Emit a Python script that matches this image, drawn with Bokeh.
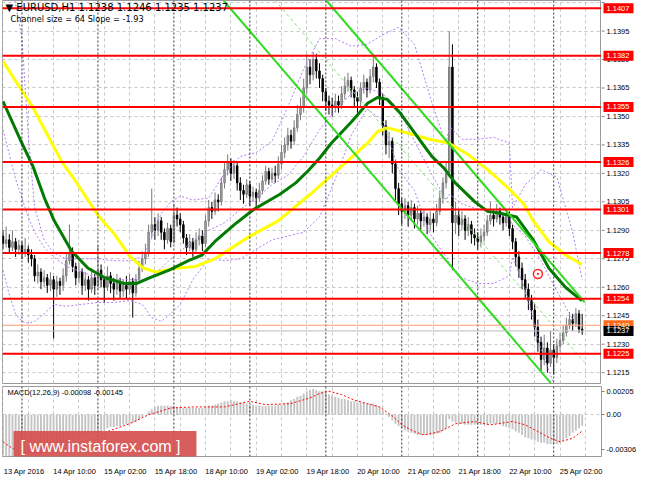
from bokeh.plotting import figure
from bokeh.layouts import column, row
from bokeh.models import Range1d, FixedTicker, Span, Label, ColumnDataSource
from bokeh.core.properties import value
from bokeh.embed import file_html
from bokeh.resources import INLINE

FONT = "Liberation Sans"
TFONT = "DejaVu Sans"

# ---------------- data (EURUSD H1, bar index 0 = 13 Apr 18:00) ----------------
o = [1.1287, 1.1283, 1.1285, 1.1281, 1.1284, 1.1280, 1.1282, 1.1278, 1.1280, 1.1277,
     1.1275, 1.1266, 1.1268, 1.1263, 1.1265, 1.1261, 1.1264, 1.1259, 1.1263, 1.1261,
     1.1266, 1.1274, 1.1278, 1.1271, 1.1265, 1.1268, 1.1261, 1.1264, 1.1259, 1.1265,
     1.1261, 1.1269, 1.1264, 1.1260, 1.1266, 1.1262, 1.1259, 1.1263, 1.1258, 1.1261,
     1.1259, 1.1263, 1.1257, 1.1264, 1.1270, 1.1275, 1.1278, 1.1289, 1.1293, 1.1290,
     1.1295, 1.1289, 1.1285, 1.1291, 1.1284, 1.1298, 1.1296, 1.1293, 1.1286, 1.1281,
     1.1284, 1.1280, 1.1285, 1.1287, 1.1283, 1.1295, 1.1302, 1.1300, 1.1306, 1.1305,
     1.1315, 1.1322, 1.1326, 1.1320, 1.1324, 1.1315, 1.1311, 1.1309, 1.1314, 1.1308,
     1.1310, 1.1307, 1.1311, 1.1316, 1.1321, 1.1317, 1.1320, 1.1319, 1.1325, 1.1331,
     1.1335, 1.1340, 1.1337, 1.1344, 1.1351, 1.1355, 1.1365, 1.1376, 1.1372, 1.1380,
     1.1374, 1.1370, 1.1363, 1.1358, 1.1356, 1.1355, 1.1358, 1.1356, 1.1362, 1.1366,
     1.1369, 1.1364, 1.1360, 1.1358, 1.1365, 1.1368, 1.1364, 1.1371, 1.1376, 1.1368,
     1.1360, 1.1345, 1.1335, 1.1337, 1.1325, 1.1312, 1.1304, 1.1300, 1.1303, 1.1298,
     1.1302, 1.1296, 1.1299, 1.1295, 1.1297, 1.1293, 1.1296, 1.1294, 1.1300, 1.1307,
     1.1315, 1.1320, 1.1376, 1.1294, 1.1298, 1.1293, 1.1296, 1.1290, 1.1293, 1.1288,
     1.1286, 1.1284, 1.1287, 1.1289, 1.1295, 1.1298, 1.1296, 1.1300, 1.1297, 1.1294,
     1.1298, 1.1291, 1.1284, 1.1276, 1.1270, 1.1264, 1.1259, 1.1253, 1.1248, 1.1239,
     1.1231, 1.1222, 1.1228, 1.1220, 1.1227, 1.1223, 1.1229, 1.1232, 1.1236, 1.1240,
     1.1243, 1.1241, 1.1246, 1.1238]
h = [1.1290, 1.1292, 1.1288, 1.1290, 1.1286, 1.1285, 1.1284, 1.1286, 1.1282, 1.1280,
     1.1277, 1.1272, 1.1270, 1.1269, 1.1267, 1.1268, 1.1266, 1.1266, 1.1265, 1.1270,
     1.1278, 1.1293, 1.1281, 1.1273, 1.1273, 1.1270, 1.1268, 1.1266, 1.1270, 1.1267,
     1.1282, 1.1272, 1.1266, 1.1271, 1.1268, 1.1265, 1.1267, 1.1265, 1.1264, 1.1266,
     1.1267, 1.1265, 1.1267, 1.1274, 1.1279, 1.1283, 1.1293, 1.1312, 1.1297, 1.1299,
     1.1297, 1.1291, 1.1294, 1.1293, 1.1304, 1.1302, 1.1299, 1.1295, 1.1288, 1.1288,
     1.1286, 1.1289, 1.1291, 1.1290, 1.1298, 1.1306, 1.1305, 1.1310, 1.1309, 1.1318,
     1.1326, 1.1330, 1.1328, 1.1327, 1.1326, 1.1318, 1.1314, 1.1317, 1.1316, 1.1313,
     1.1312, 1.1315, 1.1319, 1.1324, 1.1323, 1.1323, 1.1324, 1.1329, 1.1335, 1.1339,
     1.1344, 1.1343, 1.1348, 1.1356, 1.1360, 1.1370, 1.1383, 1.1380, 1.1384, 1.1383,
     1.1378, 1.1372, 1.1365, 1.1361, 1.1360, 1.1362, 1.1361, 1.1366, 1.1371, 1.1373,
     1.1371, 1.1366, 1.1363, 1.1368, 1.1372, 1.1370, 1.1375, 1.1383, 1.1378, 1.1370,
     1.1362, 1.1348, 1.1342, 1.1339, 1.1327, 1.1315, 1.1307, 1.1307, 1.1305, 1.1306,
     1.1304, 1.1303, 1.1301, 1.1301, 1.1299, 1.1300, 1.1299, 1.1304, 1.1311, 1.1318,
     1.1326, 1.1395, 1.1388, 1.1305, 1.1301, 1.1300, 1.1298, 1.1297, 1.1295, 1.1291,
     1.1289, 1.1291, 1.1293, 1.1298, 1.1305, 1.1301, 1.1304, 1.1302, 1.1299, 1.1301,
     1.1300, 1.1293, 1.1286, 1.1279, 1.1273, 1.1267, 1.1262, 1.1256, 1.1251, 1.1243,
     1.1234, 1.1235, 1.1231, 1.1237, 1.1230, 1.1233, 1.1236, 1.1240, 1.1244, 1.1247,
     1.1246, 1.1249, 1.1248, 1.1246]
l = [1.1280, 1.1281, 1.1278, 1.1279, 1.1276, 1.1277, 1.1275, 1.1276, 1.1273, 1.1271,
     1.1263, 1.1262, 1.1259, 1.1260, 1.1257, 1.1258, 1.1233, 1.1255, 1.1256, 1.1258,
     1.1263, 1.1272, 1.1268, 1.1261, 1.1262, 1.1256, 1.1258, 1.1253, 1.1257, 1.1256,
     1.1259, 1.1260, 1.1252, 1.1258, 1.1257, 1.1253, 1.1256, 1.1254, 1.1255, 1.1254,
     1.1256, 1.1244, 1.1255, 1.1262, 1.1268, 1.1272, 1.1276, 1.1286, 1.1285, 1.1287,
     1.1285, 1.1280, 1.1283, 1.1281, 1.1283, 1.1292, 1.1289, 1.1283, 1.1277, 1.1279,
     1.1276, 1.1278, 1.1282, 1.1279, 1.1281, 1.1292, 1.1296, 1.1298, 1.1300, 1.1303,
     1.1312, 1.1319, 1.1316, 1.1317, 1.1311, 1.1306, 1.1304, 1.1307, 1.1303, 1.1305,
     1.1302, 1.1305, 1.1309, 1.1314, 1.1314, 1.1315, 1.1315, 1.1317, 1.1322, 1.1328,
     1.1332, 1.1333, 1.1335, 1.1342, 1.1348, 1.1352, 1.1362, 1.1367, 1.1369, 1.1370,
     1.1365, 1.1358, 1.1353, 1.1351, 1.1350, 1.1352, 1.1352, 1.1354, 1.1359, 1.1363,
     1.1360, 1.1355, 1.1352, 1.1355, 1.1362, 1.1360, 1.1362, 1.1368, 1.1365, 1.1356,
     1.1340, 1.1330, 1.1328, 1.1320, 1.1306, 1.1298, 1.1293, 1.1296, 1.1292, 1.1295,
     1.1291, 1.1293, 1.1290, 1.1292, 1.1288, 1.1290, 1.1289, 1.1292, 1.1298, 1.1304,
     1.1312, 1.1318, 1.1269, 1.1288, 1.1287, 1.1290, 1.1285, 1.1287, 1.1283, 1.1282,
     1.1280, 1.1281, 1.1284, 1.1287, 1.1293, 1.1292, 1.1294, 1.1293, 1.1290, 1.1292,
     1.1287, 1.1280, 1.1271, 1.1265, 1.1259, 1.1254, 1.1248, 1.1243, 1.1234, 1.1226,
     1.1216, 1.1219, 1.1215, 1.1218, 1.1214, 1.1220, 1.1226, 1.1230, 1.1234, 1.1238,
     1.1237, 1.1239, 1.1236, 1.1235]
c = [1.1283, 1.1285, 1.1281, 1.1284, 1.1280, 1.1282, 1.1278, 1.1280, 1.1277, 1.1275,
     1.1266, 1.1268, 1.1263, 1.1265, 1.1261, 1.1264, 1.1259, 1.1263, 1.1261, 1.1266,
     1.1274, 1.1278, 1.1271, 1.1265, 1.1268, 1.1261, 1.1264, 1.1259, 1.1265, 1.1261,
     1.1269, 1.1264, 1.1260, 1.1266, 1.1262, 1.1259, 1.1263, 1.1258, 1.1261, 1.1259,
     1.1263, 1.1257, 1.1264, 1.1270, 1.1275, 1.1278, 1.1289, 1.1293, 1.1290, 1.1295,
     1.1289, 1.1285, 1.1291, 1.1284, 1.1298, 1.1296, 1.1293, 1.1286, 1.1281, 1.1284,
     1.1280, 1.1285, 1.1287, 1.1283, 1.1295, 1.1302, 1.1300, 1.1306, 1.1305, 1.1315,
     1.1322, 1.1326, 1.1320, 1.1324, 1.1315, 1.1311, 1.1309, 1.1314, 1.1308, 1.1310,
     1.1307, 1.1311, 1.1316, 1.1321, 1.1317, 1.1320, 1.1319, 1.1325, 1.1331, 1.1335,
     1.1340, 1.1337, 1.1344, 1.1351, 1.1355, 1.1365, 1.1376, 1.1372, 1.1380, 1.1374,
     1.1370, 1.1363, 1.1358, 1.1356, 1.1355, 1.1358, 1.1356, 1.1362, 1.1366, 1.1369,
     1.1364, 1.1360, 1.1358, 1.1365, 1.1368, 1.1364, 1.1371, 1.1376, 1.1368, 1.1360,
     1.1345, 1.1335, 1.1337, 1.1325, 1.1312, 1.1304, 1.1300, 1.1303, 1.1298, 1.1302,
     1.1296, 1.1299, 1.1295, 1.1297, 1.1293, 1.1296, 1.1294, 1.1300, 1.1307, 1.1315,
     1.1320, 1.1376, 1.1294, 1.1298, 1.1293, 1.1296, 1.1290, 1.1293, 1.1288, 1.1286,
     1.1284, 1.1287, 1.1289, 1.1295, 1.1298, 1.1296, 1.1300, 1.1297, 1.1294, 1.1298,
     1.1291, 1.1284, 1.1276, 1.1270, 1.1264, 1.1259, 1.1253, 1.1248, 1.1239, 1.1231,
     1.1222, 1.1228, 1.1220, 1.1227, 1.1223, 1.1229, 1.1232, 1.1236, 1.1240, 1.1243,
     1.1241, 1.1246, 1.1238, 1.1237]

# moving averages (dark green, yellow)
ma1_x = [0, 5.4, 9.4, 13.1, 16.2, 21.7, 26.9, 32.2, 38.3, 42.3, 46.3, 52.5, 58.6, 62.9, 66.9,
         73.1, 79.2, 87.5, 92.5, 96.2, 100.0, 103.8, 110.0, 115.2, 118.3, 121.4, 125.4, 131.5,
         135.5, 139.2, 142.9, 149.1, 153.1, 157.1, 162.3, 167.5, 172.5, 177.7, 182.9]
ma1_y = [1.1358, 1.1338, 1.1324, 1.1307, 1.1295, 1.1279, 1.1270, 1.1265, 1.1262, 1.1262,
         1.1265, 1.1269, 1.1274, 1.1277, 1.1284, 1.1293, 1.1301, 1.1309, 1.1315, 1.1321,
         1.1328, 1.1336, 1.1347, 1.1357, 1.1360, 1.1359, 1.1352, 1.1338, 1.1329, 1.1323,
         1.1315, 1.1305, 1.1300, 1.1299, 1.1297, 1.1285, 1.1270, 1.1260, 1.1253]
ma2_x = [0, 5.4, 9.4, 18.6, 22.9, 30.0, 35.2, 40.2, 44.5, 48.5, 54.6, 60.8, 66.9, 77.1, 86.9,
         97.1, 107.8, 115.2, 118.3, 121.4, 128.5, 134.6, 140.8, 146.9, 153.1, 159.2, 164.5,
         167.5, 172.5, 177.7, 182.9]
ma2_y = [1.1379, 1.1365, 1.1355, 1.1326, 1.1316, 1.1298, 1.1288, 1.1276, 1.1270, 1.1268,
         1.1270, 1.1271, 1.1275, 1.1286, 1.1295, 1.1309, 1.1325, 1.1336, 1.1342, 1.1344,
         1.1341, 1.1338, 1.1336, 1.1330, 1.1322, 1.1313, 1.1304, 1.1295, 1.1284, 1.1277, 1.1272]

# Bollinger bands (violet dotted)
bb_x = [0, 2, 4, 6, 8, 10, 13, 16, 20, 25, 30, 35, 40, 44, 47, 50, 53, 56, 60, 65, 70, 75, 80,
        85, 90, 95, 100, 105, 110, 115, 120, 125, 130, 135, 140, 141, 145, 150, 155, 160, 161,
        165, 170, 175, 180, 183]
bb_up = [1.1442, 1.1424, 1.1409, 1.1391, 1.1340, 1.1302, 1.1285, 1.1278, 1.1275, 1.1275,
         1.1275, 1.1274, 1.1274, 1.1276, 1.1286, 1.1299, 1.1305, 1.1308, 1.1306, 1.1307,
         1.1320, 1.1329, 1.1331, 1.1337, 1.1355, 1.1375, 1.1391, 1.1391, 1.1387, 1.1388,
         1.1393, 1.1397, 1.1388, 1.1360, 1.1335, 1.1345, 1.1338, 1.1338, 1.1339, 1.1336,
         1.1302, 1.1314, 1.1322, 1.1318, 1.1289, 1.1264]
bb_mid = [1.1343, 1.1330, 1.1317, 1.1307, 1.1297, 1.1289, 1.1281, 1.1276, 1.1271, 1.1268,
          1.1265, 1.1264, 1.1264, 1.1264, 1.1266, 1.1270, 1.1275, 1.1279, 1.1284, 1.1290,
          1.1294, 1.1301, 1.1307, 1.1314, 1.1319, 1.1329, 1.1343, 1.1353, 1.1362, 1.1365,
          1.1362, 1.1354, 1.1337, 1.1321, 1.1306, 1.1309, 1.1304, 1.1301, 1.1300, 1.1297,
          1.1293, 1.1287, 1.1274, 1.1258, 1.1243, 1.1238]
bb_lo = [1.1269, 1.1256, 1.1246, 1.1242, 1.1241, 1.1242, 1.1246, 1.1251, 1.1250, 1.1251,
         1.1252, 1.1252, 1.1253, 1.1251, 1.1244, 1.1242, 1.1246, 1.1251, 1.1264, 1.1275,
         1.1274, 1.1275, 1.1280, 1.1285, 1.1287, 1.1289, 1.1297, 1.1317, 1.1340, 1.1354,
         1.1348, 1.1322, 1.1311, 1.1288, 1.1276, 1.1273, 1.1265, 1.1262, 1.1262, 1.1266,
         1.1276, 1.1259, 1.1227, 1.1205, 1.1200, 1.1208]

# regression channel (Channel size = 64, Slope = -1.93)
chan_lo_x, chan_lo_y = [69.7, 173.1], [1.14111, 1.12095]
chan_mid_x, chan_mid_y = [86.0, 183.8], [1.14111, 1.12203]
chan_up_x, chan_up_y = [102.2, 183.8], [1.14111, 1.12520]

levels = [1.1407, 1.1382, 1.1355, 1.1326, 1.1301, 1.1278, 1.1254, 1.1225]
ask_line, bid_line = 1.1240, 1.1237
mark_x, mark_y = [169], [1.1267]

price_ticks = [1.1410, 1.1395, 1.1380, 1.1365, 1.1350, 1.1335, 1.1320, 1.1305, 1.1290,
               1.1275, 1.1260, 1.1245, 1.1230, 1.1215]
date_ticks = [0, 16, 32, 48, 64, 80, 96, 112, 128, 144, 160, 176]
date_labels = ["13 Apr 2016", "14 Apr 10:00", "15 Apr 02:00", "15 Apr 18:00", "18 Apr 10:00",
               "19 Apr 02:00", "19 Apr 18:00", "20 Apr 10:00", "21 Apr 02:00", "21 Apr 18:00",
               "22 Apr 10:00", "25 Apr 02:00"]
day_starts = [6, 30, 54, 78, 102, 126, 150, 174]
grid_x = [0, 8, 16, 24, 32, 40, 48, 56, 64, 72, 80, 88, 96, 104, 112, 120, 128, 136, 144,
          152, 160, 168, 176, 184]

# MACD(12,26,9)
macd = [-0.0036, -0.0037, -0.0037, -0.0037,
        -0.0037, -0.0037, -0.0036, -0.0036, -0.0035, -0.0035,
        -0.0034, -0.0034, -0.0033, -0.0032, -0.0031, -0.0030,
        -0.0030, -0.0029, -0.0028, -0.0027, -0.0026, -0.0024,
        -0.0023, -0.0022, -0.0021, -0.0019,
        -0.0018, -0.0017, -0.0017, -0.0016, -0.0016, -0.0015, -0.0014,
        -0.0012, -0.0011, -0.0011, -0.0010, -0.0010, -0.0009, -0.0009, -0.0008,
        -0.0007, -0.0006, -0.0004, -0.0002, 0.0000,
        0.0003, 0.0005, 0.0007, 0.0008,
        0.0008, 0.0008, 0.0008, 0.0008, 0.0008,
        0.0007, 0.0007, 0.0006, 0.0006, 0.0006, 0.0006, 0.0006, 0.0006, 0.0006, 0.0007,
        0.0008, 0.0008, 0.0009, 0.0010, 0.0011, 0.0012,
        0.0012, 0.0013, 0.0012, 0.0012, 0.0011, 0.0011, 0.0010,
        0.0009, 0.0009, 0.0008, 0.0008, 0.0008, 0.0008, 0.0008, 0.0008, 0.0008, 0.0009,
        0.0009, 0.0010, 0.0011, 0.0013,
        0.0014, 0.0016, 0.0017, 0.0019, 0.0021, 0.0022, 0.0023, 0.0022,
        0.0021, 0.0021, 0.0020,
        0.0018, 0.0017, 0.0016, 0.0015, 0.0014, 0.0014, 0.0013,
        0.0012, 0.0012, 0.0011, 0.0011, 0.0011, 0.0010, 0.0010, 0.0010, 0.0009,
        0.0007, 0.0004, 0.0001, -0.0002,
        -0.0005, -0.0008, -0.0010,
        -0.0012, -0.0014, -0.0015, -0.0016, -0.0017, -0.0018, -0.0018, -0.0018, -0.0018,
        -0.0018, -0.0018, -0.0017, -0.0016, -0.0014, -0.0012,
        -0.0004, -0.0006, -0.0007,
        -0.0008, -0.0008, -0.0009, -0.0009, -0.0009, -0.0009, -0.0009, -0.0009, -0.0009,
        -0.0009, -0.0008, -0.0008, -0.0008, -0.0009,
        -0.0010, -0.0011, -0.0012, -0.0013, -0.0015, -0.0016, -0.0018, -0.0020,
        -0.0021, -0.0022, -0.0023, -0.0024, -0.0025, -0.0025,
        -0.0026, -0.0026, -0.0026, -0.0026, -0.0025,
        -0.0023, -0.0021, -0.0019, -0.0016, -0.0014, -0.0012, -0.00098]
sig_x = [0, 3, 6, 10, 16, 22, 28, 31, 40, 46, 53, 60, 70, 78, 83, 91, 97, 100, 103, 107, 111,
         115, 119, 123, 126, 130, 133, 138, 143, 149, 154, 161, 165, 169, 173, 176, 180, 183]
sig_y = [-0.0024, -0.0030, -0.0033, -0.0034, -0.0033, -0.0029, -0.0022, -0.0017, -0.0008,
         0.0000, 0.0006, 0.0007, 0.0007, 0.0012, 0.0009, 0.0010, 0.0015, 0.0019, 0.0021,
         0.0018, 0.0013, 0.0010, 0.0007, -0.0001, -0.0009, -0.0015, -0.0018, -0.0015,
         -0.0008, -0.0006, -0.0009, -0.0006, -0.0009, -0.0015, -0.0021, -0.0024, -0.0021,
         -0.00145]
macd_ticks = [0.00205, 0.0, -0.00306]
macd_tick_labels = ["0.00205", "0.00", "-0.00306"]

# ---------------- figure ----------------
FW = 599          # plot frame width (px)
SW = 33           # right price-scale strip width (px)
FH1, FH2 = 383, 70
GRID = "#c6c6c6"
xr = Range1d(-0.15, 189.1)
yr = Range1d(1.12093, 1.14111)

xs = list(range(len(c)))
up = [ci >= oi for oi, ci in zip(o, c)]
src = ColumnDataSource(dict(
    x=xs, h=h, l=l,
    top=[max(a, b) for a, b in zip(o, c)],
    bot=[min(a, b) for a, b in zip(o, c)],
    lc=["#7a7a7a" if u else "#000000" for u in up],
    fc=["#b0b0b0" if u else "#000000" for u in up],
))

p1 = figure(frame_width=FW, frame_height=FH1, x_range=xr, y_range=yr,
            x_axis_location=None, y_axis_location=None, toolbar_location=None,
            output_backend="svg", min_border_left=2, min_border_right=0,
            min_border_top=0, min_border_bottom=2, outline_line_color="#9a9a9a")

# right price scale strip (shares the price range)
s1 = figure(frame_width=SW, frame_height=FH1, x_range=Range1d(0, SW), y_range=yr,
            x_axis_location=None, y_axis_location=None, toolbar_location=None,
            output_backend="svg", min_border_left=0, min_border_right=0,
            min_border_top=0, min_border_bottom=2, outline_line_color=None)
s1.grid.visible = False

p2 = figure(frame_width=FW, frame_height=FH2, x_range=xr, y_range=Range1d(-0.00372, 0.00252),
            y_axis_location="right", toolbar_location=None, output_backend="svg",
            min_border_left=2, min_border_right=SW, min_border_top=1, min_border_bottom=15,
            outline_line_color="#9a9a9a")

for p in (p1, p2):
    p.xgrid.ticker = FixedTicker(ticks=grid_x)
    p.xgrid.grid_line_color = GRID
    p.xgrid.grid_line_dash = "3 3"
    p.ygrid.grid_line_color = GRID
    p.ygrid.grid_line_dash = "3 3"
    for d in day_starts:
        p.add_layout(Span(location=d, dimension="height", line_color="#333333",
                          line_dash="2 2", line_width=1))

p1.ygrid.ticker = FixedTicker(ticks=price_ticks)

# horizontal levels
for lv in levels:
    p1.add_layout(Span(location=lv, dimension="width", line_color="#ff0000", line_width=2))
p1.add_layout(Span(location=ask_line, dimension="width", line_color="#ff9a70", line_width=1))
p1.add_layout(Span(location=bid_line, dimension="width", line_color="#bdbdbd", line_width=1))

# candles
p1.segment(x0="x", y0="h", x1="x", y1="l", source=src, line_color="lc", line_width=1)
p1.vbar(x="x", top="top", bottom="bot", width=0.45, source=src,
        fill_color="fc", line_color="lc", line_width=1)

# bollinger bands
for band in (bb_up, bb_mid, bb_lo):
    p1.line(bb_x, band, line_color="#b07ef0", line_width=1, line_dash="2 2")

# moving averages
p1.line(ma2_x, ma2_y, line_color="#ffff00", line_width=3)
p1.line(ma1_x, ma1_y, line_color="#037a03", line_width=3)

# channel
p1.line(chan_lo_x, chan_lo_y, line_color="#2fdc1f", line_width=2)
p1.line(chan_up_x, chan_up_y, line_color="#2fdc1f", line_width=2)
p1.line(chan_mid_x, chan_mid_y, line_color="#7ee070", line_width=1, line_dash="3 3")

p1.scatter(mark_x, mark_y, marker="circle_dot", size=9, line_color="#ff2020",
           fill_color="white", line_width=1.5)

# titles
p1.add_layout(Label(x=3, y=FH1 - 7, x_units="screen", y_units="screen",
                    text="\u25bc  EURUSD,H1  1.1238 1.1246 1.1235 1.1237",
                    text_font=TFONT, text_font_size="10px", text_color="#000000",
                    text_baseline="middle"))
p1.add_layout(Label(x=8, y=FH1 - 18, x_units="screen", y_units="screen",
                    text="Channel size = 64 Slope = -1.93",
                    text_font=TFONT, text_font_size="8.2px", text_color="#000000",
                    text_baseline="middle"))

# price scale: ticks, labels, level boxes
tick_off = [3.5 if t == price_ticks[0] else 0 for t in price_ticks]
s1.segment(x0=0, x1=3, y0=price_ticks, y1=price_ticks, line_color="#808080", line_width=1)
s1.text(x=5, y=price_ticks, text=[f"{t:.4f}" for t in price_ticks], y_offset=tick_off,
        text_font=value(FONT), text_font_size="7.5px", text_color="#000000",
        text_baseline="middle")
box_y = levels + [ask_line, bid_line]
box_col = ["#ff0000"] * len(levels) + ["#ff6a1a", "#000000"]
s1.rect(x=17, y=box_y, width=30, height=10, height_units="screen",
        fill_color=box_col, line_color=None)
s1.text(x=5, y=box_y, text=[f"{v:.4f}" for v in box_y], text_font=value(FONT),
        text_font_size="7.5px", text_color="white", text_baseline="middle")

# MACD panel
p2.vbar(x=xs, top=macd, bottom=0, width=0.6, fill_color="#c4c4c4", line_color=None)
p2.line(sig_x, sig_y, line_color="#ff0000", line_width=1, line_dash="2 2")
p2.ygrid.ticker = FixedTicker(ticks=[0.0])

ay = p2.yaxis[0]
ay.ticker = FixedTicker(ticks=macd_ticks)
ay.major_label_overrides = dict(zip(macd_ticks, macd_tick_labels))
ay.axis_line_color = None
ay.major_tick_line_color = "#808080"
ay.major_tick_out = 3
ay.major_tick_in = 0
ay.minor_tick_line_color = None
ay.major_label_standoff = 2
ay.major_label_text_font = FONT
ay.major_label_text_font_size = "7.5px"
ay.major_label_text_color = "#000000"

label_shift = 6.7   # labels start at their time position (MT4 style)
date_pos = [t + label_shift for t in date_ticks]
ax = p2.xaxis[0]
ax.ticker = FixedTicker(ticks=date_pos)
ax.major_label_overrides = dict(zip(date_pos, date_labels))
ax.major_label_text_font = FONT
ax.major_label_text_font_size = "7.5px"
ax.major_label_text_color = "#000000"
ax.axis_line_color = None
ax.major_tick_line_color = None
ax.minor_tick_line_color = None
ax.major_label_standoff = 4

p2.add_layout(Label(x=5, y=FH2 - 6, x_units="screen", y_units="screen",
                    text="MACD(12,26,9) -0.00098 -0.00145",
                    text_font=FONT, text_font_size="7.5px", text_color="#000000",
                    text_baseline="middle"))
p2.add_layout(Label(x=11, y=10, x_units="screen", y_units="screen",
                    text="[  www.instaforex.com  ]", text_font=FONT, text_font_size="16px",
                    text_color="white", text_baseline="middle",
                    background_fill_color="#d4504f", background_fill_alpha=0.92,
                    padding=7))

layout = column(row(p1, s1, spacing=0), p2, spacing=0)
open("out.html", "w").write(file_html(layout, INLINE))
